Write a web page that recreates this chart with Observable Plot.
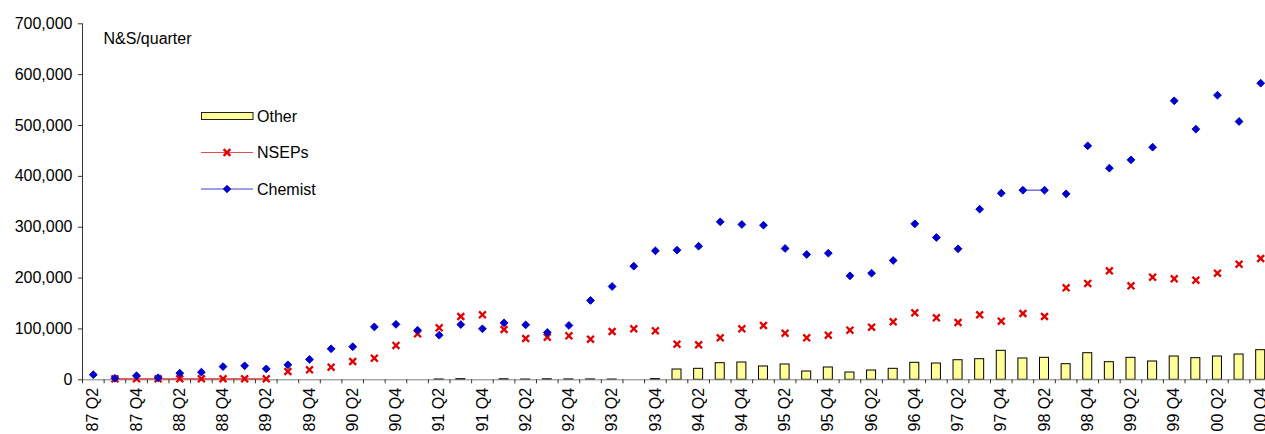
<!DOCTYPE html>
<html><head><meta charset="utf-8">
<script src="https://cdn.jsdelivr.net/npm/d3@7"></script>
<script src="https://cdn.jsdelivr.net/npm/@observablehq/plot@0.6"></script>
<style>
body{margin:0;background:#fff;}
#wrap{position:relative;width:1265px;height:434px;overflow:hidden;font-family:"Liberation Sans",Arial,sans-serif;}
#legend{position:absolute;left:0;top:0;pointer-events:none;}
</style></head><body><div id="wrap"></div>
<script>
const quarters = [
  "87 Q2","87 Q3","87 Q4",
  "88 Q1","88 Q2","88 Q3","88 Q4",
  "89 Q1","89 Q2","89 Q3","89 Q4",
  "90 Q1","90 Q2","90 Q3","90 Q4",
  "91 Q1","91 Q2","91 Q3","91 Q4",
  "92 Q1","92 Q2","92 Q3","92 Q4",
  "93 Q1","93 Q2","93 Q3","93 Q4",
  "94 Q1","94 Q2","94 Q3","94 Q4",
  "95 Q1","95 Q2","95 Q3","95 Q4",
  "96 Q1","96 Q2","96 Q3","96 Q4",
  "97 Q1","97 Q2","97 Q3","97 Q4",
  "98 Q1","98 Q2","98 Q3","98 Q4",
  "99 Q1","99 Q2","99 Q3","99 Q4",
  "00 Q1","00 Q2","00 Q3","00 Q4"
];
const labelQuarters = [
  "87 Q2","87 Q4","88 Q2","88 Q4","89 Q2","89 Q4","90 Q2","90 Q4","91 Q2","91 Q4",
  "92 Q2","92 Q4","93 Q2","93 Q4","94 Q2","94 Q4","95 Q2","95 Q4","96 Q2","96 Q4",
  "97 Q2","97 Q4","98 Q2","98 Q4","99 Q2","99 Q4","00 Q2","00 Q4"
];
const chemist = [
  10000, 3000, 8000,
  4000, 13000, 15000, 26000,
  27500, 21500, 29500, 40000,
  61000, 65000, 104000, 109000,
  97500, 87700, 108700, 100300,
  112000, 108000, 93000, 106800,
  156000, 183500, 223400, 253600,
  254900, 262700, 310600, 305400,
  304000, 258200, 246400, 249000,
  204500, 209600, 234600, 306700,
  279800, 257600, 335500, 367000,
  372800, 372800, 365700, 460100,
  416100, 432500, 457400, 548600,
  492800, 559600, 507900, 583200
];
const nseps = [
  null, 2000, 2000,
  2000, 2000, 2000, 2000,
  2000, 2000, 16300, 19600,
  24800, 36000, 42500, 67500,
  90500, 102200, 124500, 127800,
  98900, 81200, 83800, 86500,
  79800, 95000, 100300, 96300,
  70000, 68800, 82600, 100300,
  106800, 91600, 82600, 87700,
  97500, 103400, 114000, 131700,
  121900, 112700, 127800, 115200,
  130400, 124500, 180900, 189400,
  214300, 184800, 201800, 198600,
  195800, 209600, 227300, 238500
];
const other = [
  null, null, null,
  null, null, null, null,
  null, null, null, null,
  null, null, null, null,
  null, 600, 1200, null,
  1000, 500, 1000, 700,
  700, 500, null, 1300,
  20200, 21600, 32700, 34000,
  26200, 30100, 16300, 24200,
  14300, 18300, 21600, 33400,
  32000, 38500, 40500, 57000,
  41900, 43200, 30700, 52300,
  34600, 43200, 36000, 45800,
  42500, 45800, 49700, 58200
];
const yTicks = [0, 100000, 200000, 300000, 400000, 500000, 600000, 700000];
const unitLabel = "N&S/quarter";
const seriesNames = ["Other", "NSEPs", "Chemist"];

const data = quarters.map((q, i) => ({q, chemist: chemist[i], nseps: nseps[i], other: other[i]}));
const x0 = 82, x1 = 1271;
const step = (x1 - x0) / quarters.length;

function segs(key) {
  const s = [];
  for (let i = 1; i < data.length; i++) {
    const a = data[i - 1][key], b = data[i][key];
    if (a != null && b != null) s.push({q1: data[i - 1].q, q2: data[i].q, v1: a, v2: b, flat: Math.abs(a - b) < 1000});
  }
  return s;
}
const blue = "#0000CC", red = "#E00000";

const chart = Plot.plot({
  width: 1265, height: 434,
  marginLeft: 82, marginRight: 0, marginTop: 23.3, marginBottom: 54.7,
  style: {fontFamily: "'Liberation Sans', Arial, sans-serif", fontSize: "16px", background: "#fff", color: "#000"},
  x: {type: "band", domain: quarters, range: [x0, x1], padding: 0, axis: null},
  y: {domain: [0, 700000], axis: null},
  marks: [
    Plot.barY(data.filter(d => d.other != null), {x: "q", y: "other", fill: "#FFFF99", stroke: "#000", strokeWidth: 1, insetLeft: 6.3, insetRight: 6.3}),
    Plot.ruleY([0], {stroke: "#808080", strokeWidth: 1}),
    Plot.frame({anchor: "left", stroke: "#333"}),
    Plot.axisX({tickSize: 4, tickFormat: () => "", dx: -step / 2, stroke: "#333"}),
    Plot.axisX({ticks: labelQuarters, tickSize: 0, tickRotate: -90, tickPadding: 8, fill: "#000", fontSize: 16}),
    Plot.axisY({ticks: yTicks, tickFormat: d3.format(","), tickSize: 4, tickPadding: 6, stroke: "#333", fill: "#000", fontSize: 16}),
    Plot.link(segs("nseps"), {x1: "q1", x2: "q2", y1: "v1", y2: "v2", stroke: red, strokeWidth: 1.5, strokeOpacity: d => d.flat ? 0.65 : 0.012}),
    Plot.link(segs("chemist"), {x1: "q1", x2: "q2", y1: "v1", y2: "v2", stroke: blue, strokeWidth: 1.5, strokeOpacity: d => d.flat ? 0.55 : 0.012}),
    Plot.dot(data.filter(d => d.nseps != null), {x: "q", y: "nseps", symbol: "times", stroke: red, strokeWidth: 2.3, r: 3.2}),
    Plot.dot(data, {x: "q", y: "chemist", symbol: "diamond2", fill: blue, stroke: blue, strokeWidth: 1, r: 3.5}),
    Plot.text([unitLabel], {frameAnchor: "top-left", dx: 21, dy: 8.4, lineAnchor: "top", fill: "#000", fontSize: 16})
  ]
});
const wrap = document.getElementById("wrap");
wrap.appendChild(chart);

// legend overlay
const lg = d3.select(wrap).append("svg").attr("id", "legend").attr("width", 1265).attr("height", 434)
  .style("font-family", "'Liberation Sans', Arial, sans-serif").style("font-size", "16px");
const rows = [{y: 116, name: seriesNames[0]}, {y: 152.5, name: seriesNames[1]}, {y: 189, name: seriesNames[2]}];
lg.append("rect").attr("x", 201.5).attr("y", 112.5).attr("width", 51.5).attr("height", 7).attr("fill", "#FFFF99").attr("stroke", "#222");
lg.append("line").attr("x1", 201).attr("x2", 253).attr("y1", 152.5).attr("y2", 152.5).attr("stroke", red).attr("stroke-opacity", 0.7).attr("stroke-width", 1.2);
lg.append("path").attr("d", d3.symbol(d3.symbolTimes, Math.PI * 3.2 * 3.2)()).attr("transform", "translate(227,152.5)").attr("stroke", red).attr("stroke-width", 2.3).attr("fill", "none");
lg.append("line").attr("x1", 201).attr("x2", 253).attr("y1", 189).attr("y2", 189).attr("stroke", blue).attr("stroke-opacity", 0.75).attr("stroke-width", 1.2);
lg.append("path").attr("d", d3.symbol(d3.symbolDiamond2, Math.PI * 3.3 * 3.3)()).attr("transform", "translate(227,189)").attr("fill", blue).attr("stroke", blue).attr("stroke-width", 1);
lg.selectAll("text.l").data(rows).join("text").attr("class", "l").attr("x", 257).attr("y", d => d.y).attr("dy", "0.36em").attr("fill", "#000").text(d => d.name);
</script></body></html>
